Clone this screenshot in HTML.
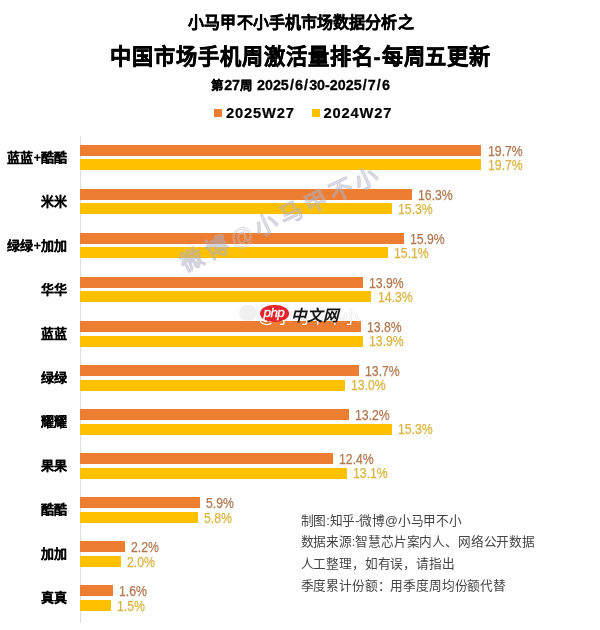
<!DOCTYPE html>
<html lang="zh-CN"><head><meta charset="utf-8">
<style>
html,body{margin:0;padding:0;background:#fff;}
body{width:600px;height:630px;position:relative;overflow:hidden;font-family:"Liberation Sans",sans-serif;}
.t{position:absolute;white-space:nowrap;color:#000;}
.t1{left:0;width:602px;text-align:center;top:12.5px;font-size:16px;font-weight:bold;line-height:20px;-webkit-text-stroke:0.35px #000;letter-spacing:0.1px;}
.t2{left:0;width:601.5px;text-align:center;top:43.2px;font-size:21.2px;letter-spacing:0.95px;font-weight:bold;line-height:28px;-webkit-text-stroke:0.5px #000;}
.t3{left:0;width:601px;text-align:center;top:76px;font-size:14.3px;font-weight:bold;line-height:18px;letter-spacing:0px;-webkit-text-stroke:0.3px #000;}
.t3 .c{font-size:12.5px;}
.t3 .s{margin:0 1.1px;}
.leg{position:absolute;top:103.7px;font-size:14.7px;font-weight:bold;line-height:18px;white-space:nowrap;letter-spacing:0.85px;-webkit-text-stroke:0.2px #000;}
.sq{position:absolute;width:8px;height:8px;}
.axis{position:absolute;left:80px;top:136px;width:1px;height:487px;background:#dedede;}
.bar{position:absolute;left:80px;height:11px;}
.o{background:#ED7D31;}
.y{background:#FFC000;}
.cat{position:absolute;right:533px;font-size:13px;font-weight:bold;line-height:14px;white-space:nowrap;color:#000;-webkit-text-stroke:0.1px #000;}
.val{position:absolute;font-size:14px;line-height:14px;white-space:nowrap;transform:scaleX(0.875);transform-origin:0 0;}
.vo{color:#B0784E;-webkit-text-stroke:0.25px #B0784E;}
.vy{color:#D9B443;-webkit-text-stroke:0.25px #D9B443;}
.note{position:absolute;left:300.5px;font-size:12.7px;line-height:14px;color:#454545;white-space:nowrap;letter-spacing:-0.16px;}
</style></head><body><div id="wrap" style="position:absolute;left:0;top:0;width:600px;height:630px;filter:blur(0.4px);background:#fff">
<div class="t t1">小马甲不小手机市场数据分析之</div>
<div class="t t2">中国市场手机周激活量排名-每周五更新</div>
<div class="t t3"><span class="c">第</span>27<span class="c">周</span> 2025<span class="s">/</span>6<span class="s">/</span>30-2025<span class="s">/</span>7<span class="s">/</span>6</div>
<div class="sq" style="left:213.5px;top:109px;background:#ED7D31"></div>
<div class="leg" style="left:226px">2025W27</div>
<div class="sq" style="left:311.5px;top:109px;background:#FFC000"></div>
<div class="leg" style="left:323.5px">2024W27</div>
<div class="axis"></div>
<div class="cat" style="top:150.5px">蓝蓝+酷酷</div><div class="bar o" style="top:145px;width:401.3px"></div><div class="bar y" style="top:159.2px;width:401.3px"></div><div class="val vo" style="top:143.7px;left:487.5px">19.7%</div><div class="val vy" style="top:157.89999999999998px;left:487.5px">19.7%</div><div class="cat" style="top:194.5px">米米</div><div class="bar o" style="top:189px;width:332.0px"></div><div class="bar y" style="top:203.27999999999997px;width:311.7px"></div><div class="val vo" style="top:187.7px;left:418.2px">16.3%</div><div class="val vy" style="top:201.97999999999996px;left:397.9px">15.3%</div><div class="cat" style="top:238.5px">绿绿+加加</div><div class="bar o" style="top:233px;width:323.9px"></div><div class="bar y" style="top:247.35999999999999px;width:307.6px"></div><div class="val vo" style="top:231.7px;left:410.1px">15.9%</div><div class="val vy" style="top:246.05999999999997px;left:393.8px">15.1%</div><div class="cat" style="top:282.5px">华华</div><div class="bar o" style="top:277px;width:283.1px"></div><div class="bar y" style="top:291.44px;width:291.3px"></div><div class="val vo" style="top:275.7px;left:369.3px">13.9%</div><div class="val vy" style="top:290.14px;left:377.5px">14.3%</div><div class="cat" style="top:326.5px">蓝蓝</div><div class="bar o" style="top:321px;width:281.1px"></div><div class="bar y" style="top:335.52px;width:283.1px"></div><div class="val vo" style="top:319.7px;left:367.3px">13.8%</div><div class="val vy" style="top:334.21999999999997px;left:369.3px">13.9%</div><div class="cat" style="top:370.5px">绿绿</div><div class="bar o" style="top:365px;width:279.1px"></div><div class="bar y" style="top:379.59999999999997px;width:264.8px"></div><div class="val vo" style="top:363.7px;left:365.3px">13.7%</div><div class="val vy" style="top:378.29999999999995px;left:351.0px">13.0%</div><div class="cat" style="top:414.5px">耀耀</div><div class="bar o" style="top:409px;width:268.9px"></div><div class="bar y" style="top:423.68px;width:311.7px"></div><div class="val vo" style="top:407.7px;left:355.1px">13.2%</div><div class="val vy" style="top:422.38px;left:397.9px">15.3%</div><div class="cat" style="top:458.5px">果果</div><div class="bar o" style="top:453px;width:252.6px"></div><div class="bar y" style="top:467.76px;width:266.8px"></div><div class="val vo" style="top:451.7px;left:338.8px">12.4%</div><div class="val vy" style="top:466.46px;left:353.0px">13.1%</div><div class="cat" style="top:502.5px">酷酷</div><div class="bar o" style="top:497px;width:120.2px"></div><div class="bar y" style="top:511.84px;width:118.1px"></div><div class="val vo" style="top:495.7px;left:206.4px">5.9%</div><div class="val vy" style="top:510.53999999999996px;left:204.3px">5.8%</div><div class="cat" style="top:546.5px">加加</div><div class="bar o" style="top:541px;width:44.8px"></div><div class="bar y" style="top:555.92px;width:40.7px"></div><div class="val vo" style="top:539.7px;left:131.0px">2.2%</div><div class="val vy" style="top:554.62px;left:126.9px">2.0%</div><div class="cat" style="top:590.5px">真真</div><div class="bar o" style="top:585px;width:32.6px"></div><div class="bar y" style="top:600.0px;width:30.6px"></div><div class="val vo" style="top:583.7px;left:118.8px">1.6%</div><div class="val vy" style="top:598.7px;left:116.8px">1.5%</div>
<svg style="position:absolute;left:0;top:0" width="600" height="630">
<text x="0" y="0" transform="translate(281,218) rotate(-25)" text-anchor="middle" dominant-baseline="central" font-family="Liberation Sans, sans-serif" font-size="23" font-weight="bold" fill="rgba(255,255,255,0.4)" stroke="#aeaec4" stroke-width="0.7" opacity="0.55" letter-spacing="4.5">微博@小马甲不小</text>
</svg>
<div style="position:absolute;left:239px;top:305px;width:18px;height:16px;border-radius:50%;background:#f0f0f0;"></div>
<div style="position:absolute;left:258px;top:305.5px;font-size:17.5px;line-height:22px;color:#fff;white-space:nowrap;text-shadow:0 0 1.5px rgba(0,0,0,0.28);letter-spacing:-0.3px">@小马甲不小</div>
<div style="position:absolute;left:260px;top:304.75px;width:28.6px;height:17.5px;border-radius:50%;background:#E3242B;"></div>
<div style="position:absolute;left:263.5px;top:304.5px;font-size:13.5px;line-height:16px;font-style:italic;color:#fff;white-space:nowrap;letter-spacing:-0.6px;-webkit-text-stroke:0.3px #fff">php</div>
<div style="position:absolute;left:290.5px;top:306.5px;font-size:15.5px;line-height:18px;font-weight:bold;font-style:italic;color:#151515;white-space:nowrap;">中文网</div>
<div class="note" style="top:514px">制图:知乎-微博@小马甲不小</div>
<div class="note" style="top:534.5px">数据来源:智慧芯片案内人、网络公开数据</div>
<div class="note" style="top:557px">人工整理，如有误，请指出</div>
<div class="note" style="top:579px">季度累计份额：用季度周均份额代替</div>
</div></body></html>
